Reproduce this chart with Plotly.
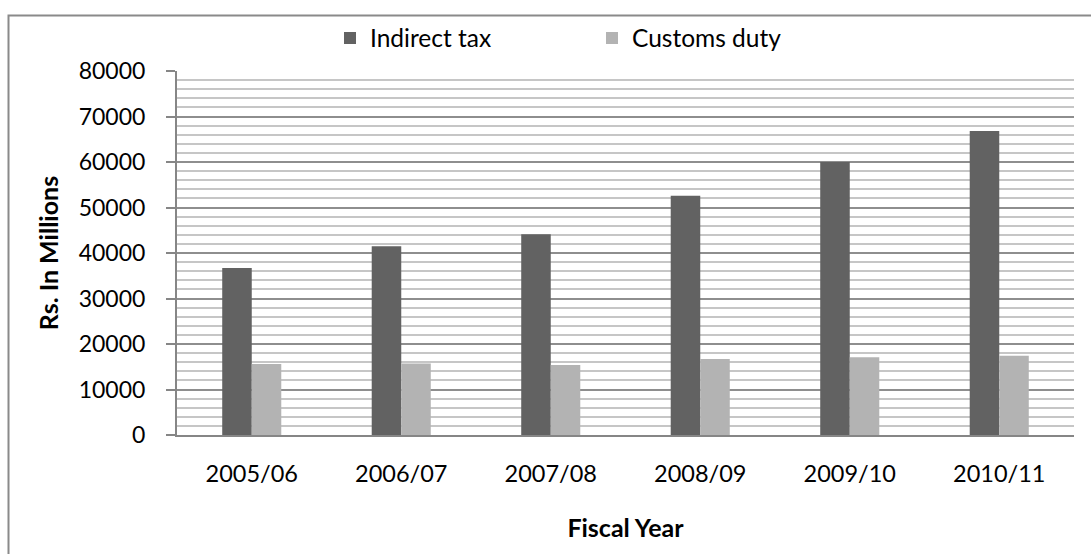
import plotly.graph_objects as go

categories = ["2005/06", "2006/07", "2007/08", "2008/09", "2009/10", "2010/11"]
indirect_tax = [36700, 41500, 44100, 52600, 60000, 66800]
customs_duty = [15600, 15700, 15400, 16700, 17100, 17400]

W, H = 1091, 554
L, R, T, B = 177, 17, 71, 119
pw, ph = W - L - R, H - T - B

FONT = "Lato"

fig = go.Figure()
fig.add_trace(go.Bar(name="Indirect tax", x=categories, y=indirect_tax,
                     marker=dict(color="#626262", line=dict(width=0))))
fig.add_trace(go.Bar(name="Customs duty", x=categories, y=customs_duty,
                     marker=dict(color="#b3b3b3", line=dict(width=0))))

def px_x(p):
    return (p - L) / pw

def px_y(p):
    return (H - B - p) / ph

fig.update_layout(
    width=W, height=H,
    margin=dict(l=L, r=R, t=T, b=B),
    paper_bgcolor="white", plot_bgcolor="white",
    barmode="group", bargap=0.605, bargroupgap=0,
    font=dict(family=FONT, size=23, color="#000000"),
    showlegend=True,
    legend=dict(orientation="h", x=px_x(330), y=px_y(38), xanchor="left", yanchor="middle",
                entrywidth=217, entrywidthmode="pixels",
                font=dict(family=FONT, size=24.5, color="#000000"),
                bgcolor="rgba(0,0,0,0)", itemclick=False, traceorder="normal"),
    xaxis=dict(
        showline=True, linecolor="#868686", linewidth=2,
        ticks="", showgrid=False,
        tickfont=dict(family=FONT, size=23.5, color="#000000"),
        ticklabelstandoff=17,
        title=dict(text="<b>Fiscal Year</b>", font=dict(family=FONT, size=25, color="#000000"),
                   standoff=33),
    ),
    yaxis=dict(
        range=[0, 80000], tickmode="array",
        tickvals=[0, 10000, 20000, 30000, 40000, 50000, 60000, 70000, 80000],
        ticktext=["0", "10000", "20000", "30000", "40000", "50000", "60000", "70000", "80000"],
        showline=True, linecolor="#868686", linewidth=2,
        ticks="outside", ticklen=9, tickcolor="#868686", tickwidth=2,
        ticklabelstandoff=16,
        showgrid=True, gridcolor="#8e8e8e", gridwidth=2,
        minor=dict(dtick=2000, showgrid=True, gridcolor="#c6c6c6", gridwidth=2, ticks=""),
        tickfont=dict(family=FONT, size=23, color="#000000"),
        zeroline=False,
        title=dict(text="<b>Rs. In Millions</b>", font=dict(family=FONT, size=25, color="#000000"),
                   standoff=13),
    ),
    shapes=[dict(type="rect", xref="paper", yref="paper",
                 x0=px_x(8.5), x1=px_x(1100), y0=px_y(570), y1=px_y(15.5),
                 line=dict(color="#8a8a8a", width=2), fillcolor="rgba(0,0,0,0)", layer="below")],
)

fig.write_html("out.html")
